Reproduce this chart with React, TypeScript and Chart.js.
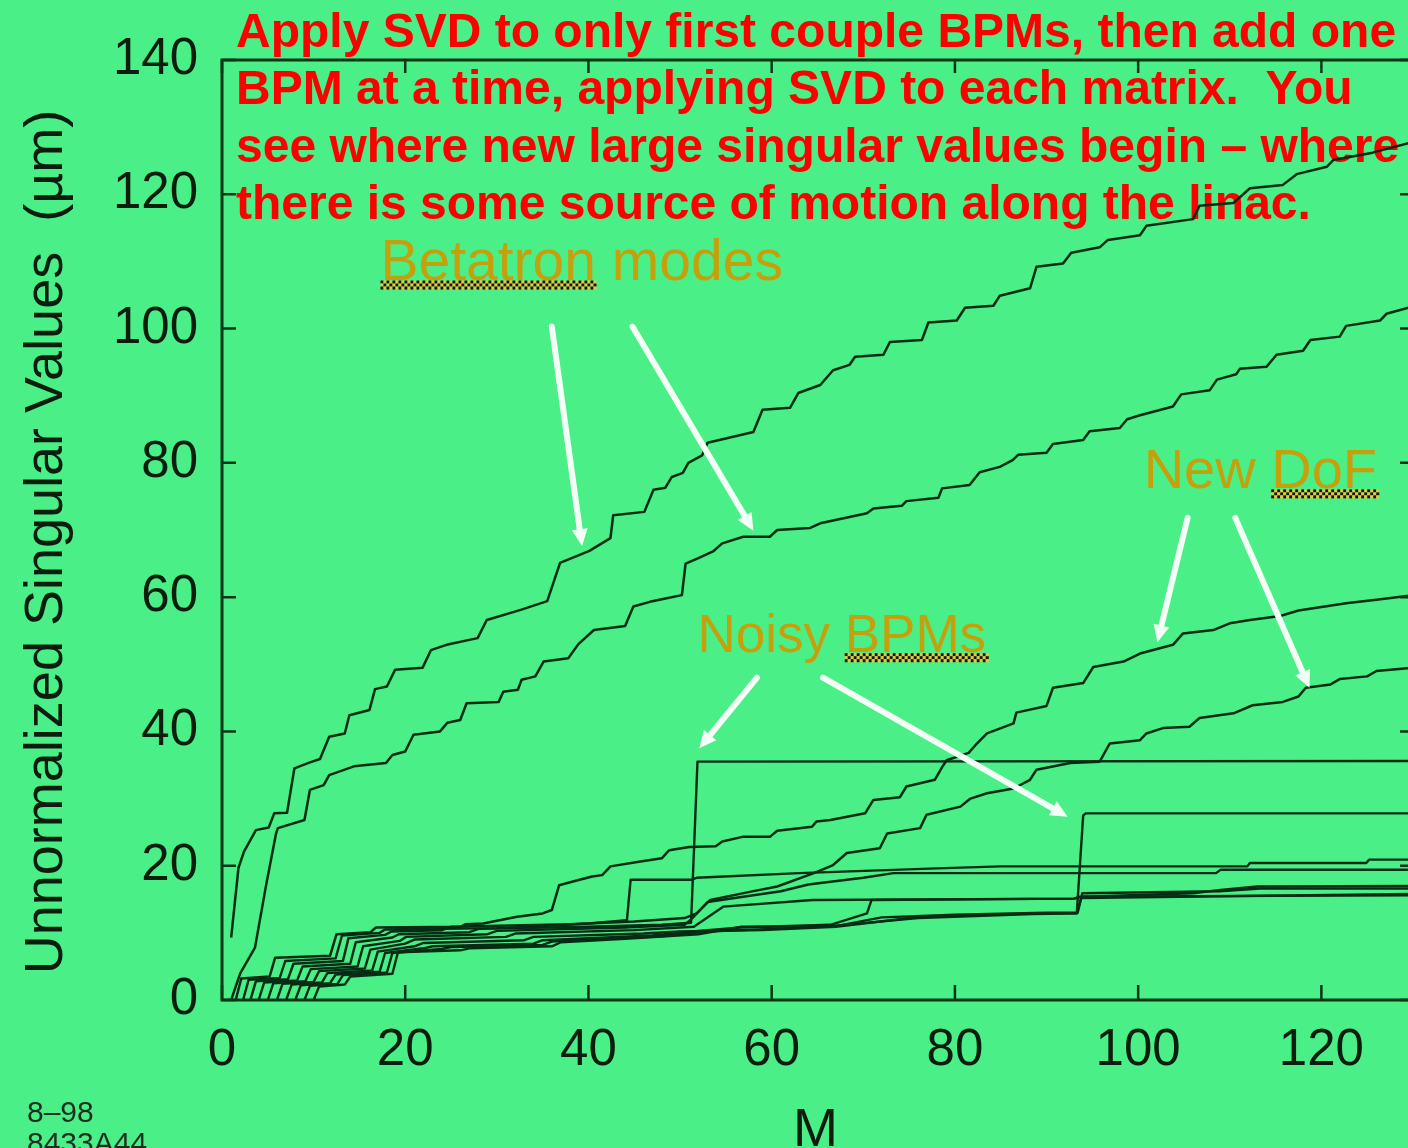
import React, { useEffect, useRef } from 'react';
import { Chart, registerables } from 'chart.js';

Chart.register(...registerables);

type Pair = [number, number];

// Singular values (µm) against the number of BPMs M included in the SVD.
// Each list holds the corners of one staircase trace.
const sv1: Pair[] = [
  [1, 9.3], [1.8, 19.7], [2.4, 22.1], [3.7, 25.3], [5.1, 25.7], [5.7, 27.8], [7.1, 27.9], [7.9, 34.5],
  [9.6, 35.4], [10.7, 35.9], [11.7, 39.2], [13.4, 39.7], [13.9, 42.4], [16.1, 43.2], [16.7, 46.3],
  [18, 46.7], [18.9, 49.2], [21.9, 49.5], [22.8, 52.1], [24.5, 52.9], [27.9, 53.9], [28.9, 56.6],
  [32.6, 58.1], [35.5, 59.4], [36.9, 65.1], [40.1, 66.9], [42.4, 68.8], [42.7, 72.2], [46.1, 72.7],
  [47.1, 76], [48.4, 76.3], [49.1, 77.9], [50.3, 78.5], [50.9, 80], [52.4, 81.1], [53, 83], [58, 84.6],
  [59, 87.9], [62, 88.2], [62.9, 90.4], [65.3, 91.6], [66.7, 93.8], [68.5, 94.6], [69.1, 95.8],
  [72.2, 96.1], [72.9, 98], [76.4, 98.3], [77.1, 100.9], [80.2, 101.2], [81.1, 103.1], [84.2, 103.4],
  [84.9, 104.9], [88.2, 106], [88.9, 109.2], [91.8, 109.7], [92.7, 111.3], [95.8, 112.1], [96.7, 113.2],
  [100.2, 113.9], [100.9, 115.3], [106, 116.3], [106.7, 118.3], [110.4, 118.7], [112.2, 120.9],
  [115.8, 121.4], [117.3, 123], [120.6, 124.1], [121.3, 125.1], [125.6, 126.2], [130, 127.8],
];

const sv2: Pair[] = [
  [1, 0], [2, 4], [3.6, 7.8], [4.8, 17], [5.9, 24.8], [6.1, 25.6], [9, 26.8], [9.6, 31.3], [11.1, 32],
  [11.7, 33.5], [14.4, 34.8], [17.9, 35.3], [18.6, 36.5], [20, 37], [20.9, 39.5], [23.8, 40], [24.6, 41.3],
  [26, 41.7], [26.7, 44.2], [30.2, 44.4], [30.7, 45.9], [32.3, 46.2], [32.7, 47.7], [34.2, 48.2],
  [35.1, 50.4], [37.8, 50.9], [38.9, 53], [40.6, 55.1], [44, 55.7], [44.9, 58.6], [46.7, 59.3],
  [48.4, 59.8], [50.2, 60.3], [50.6, 65], [52, 65.8], [53.6, 66.8], [54.6, 68], [56.9, 69], [59.8, 69],
  [60.6, 70], [64.2, 70.3], [65.3, 71], [70.4, 72.5], [71.1, 73.2], [74.2, 73.6], [74.7, 74.3],
  [78.2, 74.8], [78.6, 76.2], [81.6, 76.7], [82.7, 78.6], [84.9, 79.4], [86.3, 80.4], [86.9, 81.2],
  [90, 81.5], [90.7, 82.8], [94, 83.4], [94.7, 84.7], [98, 85.2], [98.8, 86.5], [100.2, 87.1],
  [103.8, 88.4], [104.7, 90.2], [107.8, 90.8], [108.6, 92.4], [110.7, 93.2], [111.1, 94], [114, 94.3],
  [115.1, 96.1], [118, 96.7], [118.8, 98.3], [122, 98.8], [122.7, 100.4], [126.4, 101.2], [127.1, 102.2],
  [130, 103.3],
];

const sv3: Pair[] = [
  [1.5, 0], [2.1, 3.2], [5.2, 3.5], [5.8, 6.3], [11.8, 6.6], [12.5, 9.8], [16.2, 10.1], [16.8, 10.8],
  [26, 10.9], [26.6, 11.3], [28.5, 11.4], [32.2, 12.4], [35, 12.9], [36, 13.4], [36.8, 17.1], [38.2, 17.6],
  [40.4, 18.4], [41.5, 18.6], [42.4, 19.9], [45.5, 20.6], [48, 21.1], [48.8, 22.3], [51, 22.8],
  [53.9, 22.9], [54.6, 23.6], [56.8, 24.3], [59.8, 24.3], [60.6, 25.2], [64.4, 25.8], [64.9, 26.6],
  [66.4, 26.8], [70.2, 27.8], [71.1, 29.8], [74, 30.2], [74.7, 31.8], [77.8, 32.8], [78.7, 34.9],
  [79.1, 35.7], [81.5, 36.8], [82.4, 38.2], [83.5, 39.7], [86.4, 41.2], [86.7, 42.8], [90, 43.8],
  [90.7, 46.5], [94, 47.2], [95.1, 49.6], [98.4, 50.4], [100.2, 51.6], [103.8, 52.9], [104.9, 54.6],
  [108.2, 55.1], [110, 56.1], [112.2, 56.6], [115.5, 57.2], [117.5, 58], [122.7, 59.1], [126, 59.6],
  [130, 60.3],
];

const sv4: Pair[] = [
  [3.1, 0], [3.7, 2.8], [7.2, 3.1], [7.8, 5.4], [13.2, 5.8], [13.8, 9.2], [17.8, 9.7], [18.5, 10.2],
  [24, 10.4], [25, 10.9], [38, 11.3], [45, 11.7], [50.5, 12.2], [51.8, 12.9], [53.3, 14.9], [57.6, 16.1],
  [60.6, 16.9], [64.6, 18.9], [66.7, 20.1], [68.2, 21.9], [71.8, 22.6], [72.6, 24.8], [76.2, 25.6],
  [76.9, 27.6], [80.6, 28.8], [81.7, 30], [83.5, 30.8], [86.4, 31.5], [88.2, 32.8], [88.9, 34.3],
  [92.6, 35.3], [95.8, 35.5], [96.9, 38.2], [100.2, 38.7], [100.9, 39.7], [102.7, 40.5], [105.6, 40.7],
  [106.7, 42], [110.4, 42.7], [112.5, 43.9], [115.8, 44.4], [117.5, 45.2], [118.3, 46.5], [121, 47],
  [122, 47.8], [125, 48.2], [126, 49], [130, 49.5],
];

// Trace that steps up at M ≈ 44 and then stays near 20 µm
const sv5: Pair[] = [
  [2.3, 0], [2.9, 3.0], [6.3, 3.3], [6.9, 5.8], [12.4, 6.2], [13.1, 9.6], [17.2, 10], [17.8, 10.5],
  [30, 10.7], [36, 11.1], [40, 11.4], [44.2, 11.9], [44.6, 17.9], [51.2, 17.9], [51.8, 18.2], [63, 18.9],
  [78, 19.6], [85, 19.9], [111.9, 19.9], [112.2, 20.4], [124.9, 20.4], [125.2, 20.9], [130, 20.9],
];

// First noisy BPM enters near M ≈ 52
const noisyA: Pair[] = [
  [4, 0], [4.6, 2.6], [8.2, 2.9], [8.8, 5.0], [14, 5.4], [14.6, 8.6], [18.6, 9.3], [19.3, 9.8], [27, 10.1],
  [28, 10.6], [40, 10.9], [48, 11.2], [51.2, 11.5], [51.9, 35.5], [130, 35.6],
];

const sv7: Pair[] = [
  [5, 0], [5.6, 2.5], [9.1, 2.8], [9.7, 4.6], [14.8, 5.0], [15.4, 8.0], [19.4, 8.8], [20.1, 9.4], [29, 9.8],
  [30, 10.3], [44, 10.8], [50.5, 11.2], [51.5, 12.4], [53, 14.6], [58, 15.6], [61, 16.2], [64, 17.2],
  [70, 18.2], [73.3, 18.9], [108.5, 18.9], [109, 19.4], [130, 19.4],
];

const sv8: Pair[] = [
  [6, 0], [6.6, 2.4], [10, 2.7], [10.6, 4.3], [15.6, 4.7], [16.2, 7.5], [20, 8.4], [21, 9], [31, 9.4],
  [32, 9.9], [45, 10.4], [51.5, 10.9], [54.7, 13.9], [64.5, 14.9], [93, 15.1], [94, 15.4], [106, 15.9],
  [109, 16.4], [113, 16.9], [130, 17],
];

// Second noisy BPM enters near M ≈ 93
const noisyB: Pair[] = [
  [7, 0], [7.6, 2.3], [10.9, 2.6], [11.5, 4.0], [16.4, 4.4], [17, 7.2], [21, 8.0], [22, 8.5], [33, 8.9],
  [34, 9.4], [46, 9.9], [50, 10.2], [59, 10.4], [67, 10.9], [76.2, 12.4], [88.5, 12.9], [93.3, 12.9],
  [94, 27.5], [94.3, 27.8], [130, 27.8],
];

const sv10: Pair[] = [
  [8, 0], [8.6, 2.2], [11.8, 2.5], [12.4, 3.8], [17.2, 4.2], [17.8, 7.0], [22, 7.7], [23, 8.0], [34, 8.4],
  [35, 8.9], [47, 9.6], [52, 10.3], [56.6, 10.8], [66.4, 11.2], [70.4, 12.9], [70.9, 14.9], [93, 15.1],
  [93.6, 15.4], [130, 15.6],
];

const sv11: Pair[] = [
  [9, 0], [9.6, 2.1], [12.6, 2.4], [13.2, 3.7], [18, 4.1], [18.6, 7.0], [24, 7.6], [25, 7.9], [35, 8.2],
  [36, 8.7], [48, 9.5], [53, 10.2], [60, 10.6], [67, 11.0], [72, 12.3], [80, 12.7], [90, 13.0],
  [93.4, 13.0], [93.9, 15.9], [108.9, 16.2], [113.3, 16.6], [130, 16.6],
];

const sv12: Pair[] = [
  [10, 0], [10.6, 2.0], [13.4, 2.3], [14, 3.5], [18.6, 3.9], [19.2, 7.1], [26, 7.4], [27, 7.7], [36, 8.0],
  [37, 8.6], [44, 9.1], [52, 9.8], [56.6, 10.9], [66.4, 11.0], [76, 12.2], [88.5, 12.8], [93.3, 12.9],
  [93.8, 15.2], [130, 15.8],
];

const traces: Pair[][] = [sv1, sv2, sv3, sv4, sv5, noisyA, sv7, sv8, noisyB, sv10, sv11, sv12];

const xTickValues = [0, 20, 40, 60, 80, 100, 120];
const yTickValues = [0, 20, 40, 60, 80, 100, 120, 140];

const noteLines = [
  'Apply SVD to only first couple BPMs, then add one',
  'BPM at a time, applying SVD to each matrix.  You',
  'see where new large singular values begin – where',
  'there is some source of motion along the linac.',
];

const yTitle = 'Unnormalized Singular Values  (µm)';
const xTitle = 'M';
const stampLines = ['8–98', '8433A44'];

// Callout labels: text, anchor (M, µm) of the left end of the baseline, underlined word, font size
const callouts: { text: string; at: Pair; marked: string; size: number }[] = [
  { text: 'Betatron modes', at: [17.3, 107.3], marked: 'Betatron', size: 57 },
  { text: 'Noisy BPMs', at: [51.9, 51.8], marked: 'BPMs', size: 53 },
  { text: 'New DoF', at: [100.6, 76.2], marked: 'DoF', size: 56 },
];

// Pointer arrows: tail and tip in (M, µm)
const pointers: [Pair, Pair][] = [
  [[36.0, 100.3], [39.3, 67.6]],
  [[44.8, 100.3], [58.0, 69.9]],
  [[58.4, 48.0], [52.1, 37.5]],
  [[65.6, 48.0], [92.3, 27.3]],
  [[105.4, 71.8], [102.1, 53.3]],
  [[110.6, 71.8], [118.7, 46.5]],
];

const FONT = '"Liberation Sans", Arial, Helvetica, sans-serif';
const FIELD = '#4aef88';
const INK = '#0b1d0f';
const TRACE = '#062c14';
const FRAME = '#0a3516';

function drawArrow(ctx: CanvasRenderingContext2D, x0: number, y0: number, x1: number, y1: number) {
  const ang = Math.atan2(y1 - y0, x1 - x0);
  const head = 17;
  const half = 8;
  const bx = x1 - head * Math.cos(ang);
  const by = y1 - head * Math.sin(ang);
  ctx.beginPath();
  ctx.moveTo(x0, y0);
  ctx.lineTo(bx, by);
  ctx.stroke();
  ctx.beginPath();
  ctx.moveTo(x1, y1);
  ctx.lineTo(bx + half * Math.sin(ang), by - half * Math.cos(ang));
  ctx.lineTo(bx - half * Math.sin(ang), by + half * Math.cos(ang));
  ctx.closePath();
  ctx.fill();
}

function drawChecker(ctx: CanvasRenderingContext2D, x0: number, x1: number, y: number) {
  const s = 3;
  for (let i = 0; x0 + i * s < x1; i++) {
    for (let r = 0; r < 3; r++) {
      ctx.fillStyle = (i + r) % 2 === 0 ? '#1c1400' : '#f2c23a';
      ctx.fillRect(x0 + i * s, y + r * s, s, s);
    }
  }
}

const decorations = {
  id: 'decorations',
  beforeDraw(chart: any) {
    const { ctx, width, height } = chart;
    ctx.save();
    ctx.fillStyle = FIELD;
    ctx.fillRect(0, 0, width, height);
    ctx.restore();
  },
  beforeDatasetsDraw(chart: any) {
    const { ctx, chartArea } = chart;
    ctx.save();
    ctx.fillStyle = '#ff0000';
    ctx.font = `bold 48px ${FONT}`;
    ctx.textBaseline = 'alphabetic';
    ctx.textAlign = 'left';
    noteLines.forEach((line, i) => {
      ctx.fillText(line, chartArea.left + 14, chartArea.top - 13 + i * 57.3);
    });
    ctx.restore();
  },
  afterDatasetsDraw(chart: any) {
    const { ctx, chartArea: a, scales } = chart;
    const xs = scales.x;
    const ys = scales.y;

    // plot frame with inward ticks on all four sides
    ctx.save();
    ctx.strokeStyle = FRAME;
    ctx.lineWidth = 3;
    ctx.strokeRect(a.left, a.top, a.right - a.left, a.bottom - a.top);
    ctx.lineWidth = 2.5;
    ctx.beginPath();
    xTickValues.forEach((v) => {
      const px = xs.getPixelForValue(v);
      ctx.moveTo(px, a.bottom);
      ctx.lineTo(px, a.bottom - 15);
      ctx.moveTo(px, a.top);
      ctx.lineTo(px, a.top + 13);
    });
    yTickValues.forEach((v) => {
      const py = ys.getPixelForValue(v);
      ctx.moveTo(a.left, py);
      ctx.lineTo(a.left + 14, py);
      ctx.moveTo(a.right, py);
      ctx.lineTo(a.right - 13, py);
    });
    ctx.stroke();
    ctx.restore();

    // white pointer arrows
    ctx.save();
    ctx.filter = 'blur(0.7px)';
    ctx.strokeStyle = '#f3fff6';
    ctx.fillStyle = '#f3fff6';
    ctx.lineWidth = 6;
    ctx.lineCap = 'round';
    pointers.forEach(([from, to]) => {
      drawArrow(
        ctx,
        xs.getPixelForValue(from[0]),
        ys.getPixelForValue(from[1]),
        xs.getPixelForValue(to[0]),
        ys.getPixelForValue(to[1]),
      );
    });
    ctx.restore();

    // callout labels with their spell-check underline
    ctx.save();
    ctx.textAlign = 'left';
    ctx.textBaseline = 'alphabetic';
    callouts.forEach((c) => {
      ctx.font = `${c.size}px ${FONT}`;
      const x = xs.getPixelForValue(c.at[0]);
      const y = ys.getPixelForValue(c.at[1]);
      ctx.filter = 'blur(0.6px)';
      ctx.fillStyle = '#c6a00c';
      ctx.fillText(c.text, x, y);
      ctx.filter = 'none';
      const idx = c.text.indexOf(c.marked);
      const start = x + ctx.measureText(c.text.slice(0, idx)).width;
      const w = ctx.measureText(c.marked).width;
      drawChecker(ctx, start, start + w, y + 1);
    });
    ctx.restore();
  },
  afterDraw(chart: any) {
    const { ctx, chartArea: a } = chart;
    ctx.save();
    ctx.fillStyle = INK;
    ctx.font = `54px ${FONT}`;
    ctx.textAlign = 'center';
    ctx.textBaseline = 'alphabetic';
    ctx.fillText(xTitle, (a.left + a.right) / 2 - 2, 1146);

    ctx.translate(62, 542);
    ctx.rotate(-Math.PI / 2);
    ctx.fillText(yTitle, 0, 0);
    ctx.restore();

    ctx.save();
    ctx.fillStyle = '#1d2d20';
    ctx.font = `30px ${FONT}`;
    ctx.textAlign = 'left';
    ctx.textBaseline = 'alphabetic';
    stampLines.forEach((s, i) => ctx.fillText(s, 27, 1122 + i * 31));
    ctx.restore();
  },
};

export default function App() {
  const ref = useRef<HTMLCanvasElement | null>(null);

  useEffect(() => {
    const canvas = ref.current;
    if (!canvas) return;
    const chart = new Chart(canvas, {
      type: 'line',
      data: {
        datasets: traces.map((t, i) => ({
          label: `σ${i + 1}`,
          data: t.map(([x, y]) => ({ x, y })),
          borderColor: TRACE,
          borderWidth: i < 4 ? 2.5 : 2.4,
          pointRadius: 0,
          tension: 0,
          fill: false,
          borderJoinStyle: 'round',
        })),
      },
      options: {
        responsive: false,
        animation: false,
        events: [],
        layout: { padding: { top: 60, right: 1, left: 0, bottom: 0 } },
        plugins: { legend: { display: false }, tooltip: { enabled: false } },
        scales: {
          x: {
            type: 'linear',
            min: 0,
            max: 130,
            grid: { display: false, drawTicks: false },
            border: { display: false },
            afterBuildTicks: (s: any) => {
              s.ticks = xTickValues.map((value) => ({ value }));
            },
            afterFit: (s: any) => {
              s.height = 148;
            },
            ticks: {
              autoSkip: false,
              maxRotation: 0,
              padding: 20,
              color: INK,
              font: { family: FONT, size: 51 },
            },
          },
          y: {
            type: 'linear',
            min: 0,
            max: 140,
            grid: { display: false, drawTicks: false },
            border: { display: false },
            afterBuildTicks: (s: any) => {
              s.ticks = yTickValues.map((value) => ({ value }));
            },
            afterFit: (s: any) => {
              s.width = 222;
            },
            ticks: {
              autoSkip: false,
              padding: 24,
              color: INK,
              font: { family: FONT, size: 51 },
            },
          },
        },
      },
      plugins: [decorations],
    } as any);
    return () => chart.destroy();
  }, []);

  return (
    <div
      style={{
        position: 'fixed',
        left: 0,
        top: 0,
        width: 1408,
        height: 1148,
        overflow: 'hidden',
        background: FIELD,
      }}
    >
      <canvas ref={ref} width={1414} height={1148} style={{ display: 'block' }} />
    </div>
  );
}
